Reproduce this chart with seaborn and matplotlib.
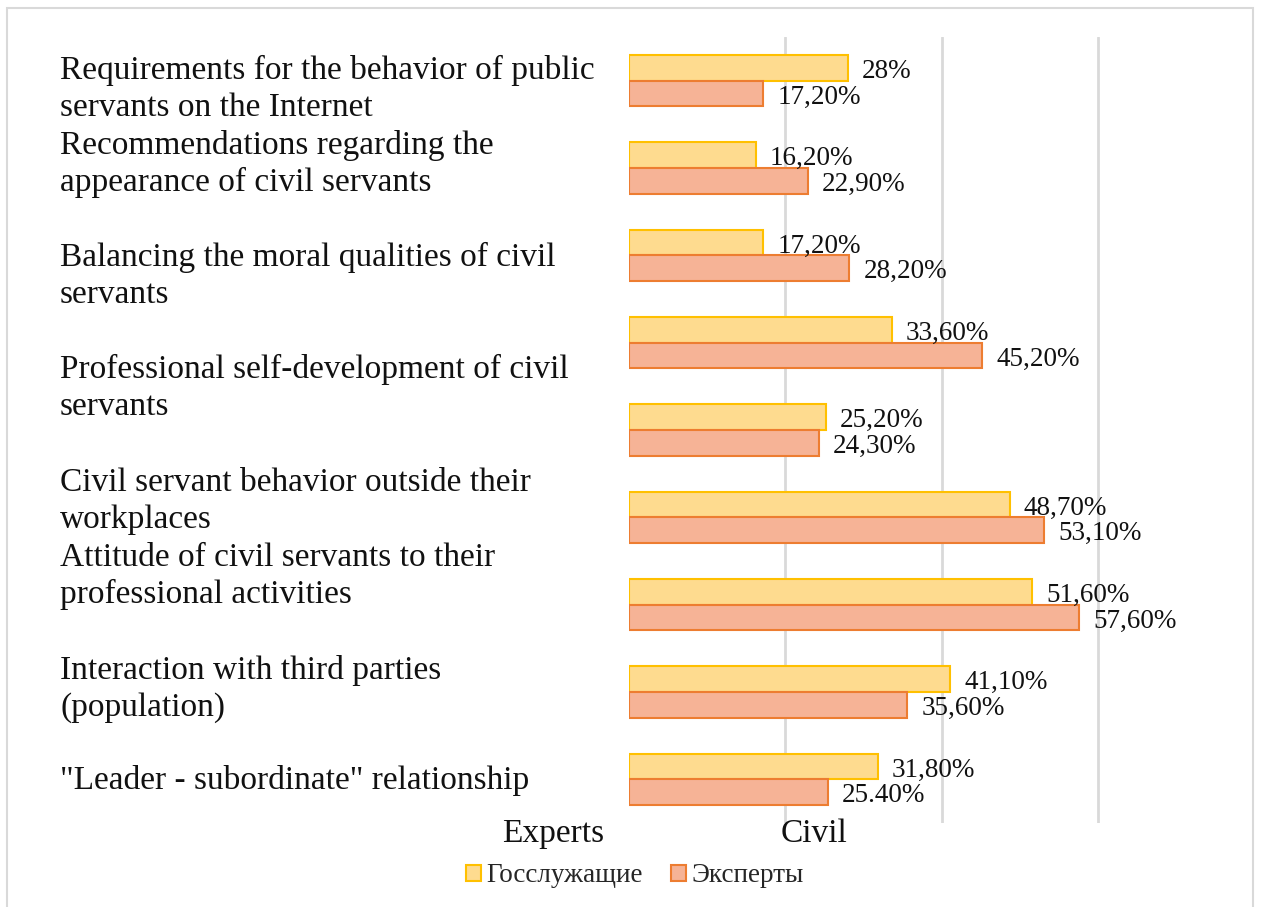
import matplotlib
matplotlib.use("Agg")
import matplotlib.pyplot as plt
from matplotlib.patches import Rectangle
import numpy as np
import pandas as pd
import seaborn as sns

# data, top group first
groups = ["g1", "g2", "g3", "g4", "g5", "g6", "g7", "g8", "g9"]
civil = [28.0, 16.2, 17.2, 33.6, 25.2, 48.7, 51.6, 41.1, 31.8]
experts = [17.2, 22.9, 28.2, 45.2, 24.3, 53.1, 57.6, 35.6, 25.4]
civil_labels = ["28%", "16,20%", "17,20%", "33,60%", "25,20%", "48,70%", "51,60%", "41,10%", "31,80%"]
expert_labels = ["17,20%", "22,90%", "28,20%", "45,20%", "24,30%", "53,10%", "57,60%", "35,60%", "25.40%"]
series_names = ["Госслужащие", "Эксперты"]

# the text labels on the left, which do not line up with the bar groups
left_texts = [
    "Requirements for the behavior of public\nservants on the Internet",
    "Recommendations regarding the\nappearance of civil servants",
    "Balancing the moral qualities of civil\nservants",
    "Professional self-development of civil\nservants",
    "Civil servant behavior outside their\nworkplaces",
    "Attitude of civil servants to their\nprofessional activities",
    "Interaction with third parties\n(population)",
    "\"Leader - subordinate\" relationship",
]
left_text_y = [89, 164, 276, 388, 501, 576, 689, 781]  # pixel centres from top

W, H = 1261, 907
PX_PER_PCT = 7.817
XMAX = 61
df = pd.DataFrame({
    "group": groups * 2,
    "value": civil + experts,
    "series": [series_names[0]] * len(groups) + [series_names[1]] * len(groups),
})

sns.set_style("white")
plt.rcParams["font.family"] = ["Liberation Serif", "DejaVu Serif"]

fig = plt.figure(figsize=(W / 100, H / 100), dpi=100)
ax = fig.add_axes([629 / W, 1 - 823 / H, XMAX * PX_PER_PCT / W, (823 - 37) / H])

fills = ["#FEDB8F", "#F6B396"]
edges = ["#FFC000", "#ED7D31"]
sns.barplot(data=df, y="group", x="value", hue="series", orient="h",
            palette=fills, width=0.585, saturation=1, ax=ax, legend=False)

for cont, ec, labs in zip(ax.containers, edges, [civil_labels, expert_labels]):
    for p in cont:
        p.set_edgecolor(ec)
        p.set_linewidth(1.5)
    txts = ax.bar_label(cont, labels=labs, padding=10, fontsize=19.5, color="#111111")
    for t in txts:
        t.set_y(-2.5)  # nudge a bit lower, like the reference

ax.set_xlim(0, XMAX)
ax.set_xticks([20, 40, 60])
ax.set_yticks([])
ax.set_xticklabels([])
ax.tick_params(length=0)
ax.set_xlabel("")
ax.set_ylabel("")
ax.grid(axis="x", color="#d9d9d9", linewidth=2)
ax.set_axisbelow(True)
for s in ax.spines.values():
    s.set_visible(False)

for txt, yy in zip(left_texts, left_text_y):
    fig.text(60 / W, 1 - yy / H, txt, fontsize=24, ha="left", va="center",
             linespacing=1.26, color="#111111")

fig.text(604 / W, 1 - 834 / H, "Experts", fontsize=24, ha="right", va="center", color="#111111")
fig.text(781 / W, 1 - 834 / H, "Civil", fontsize=24, ha="left", va="center", color="#111111")

# legend
handles = [Rectangle((0, 0), 1, 1, facecolor=f, edgecolor=e, linewidth=1.5) for f, e in zip(fills, edges)]
fig.legend(handles, series_names, loc="center", bbox_to_anchor=(635 / W, 1 - 876 / H),
           ncol=2, frameon=False, fontsize=19.5, handlelength=0.55, handleheight=0.55,
           handletextpad=0.2, columnspacing=1.05)

# outer frame
fig.patches.append(Rectangle((7 / W, -0.02), (1253 - 7) / W, 1.02 - 8 / H,
                             transform=fig.transFigure, fill=False,
                             edgecolor="#d9d9d9", linewidth=1.5))

fig.savefig("out.png", dpi=100)
